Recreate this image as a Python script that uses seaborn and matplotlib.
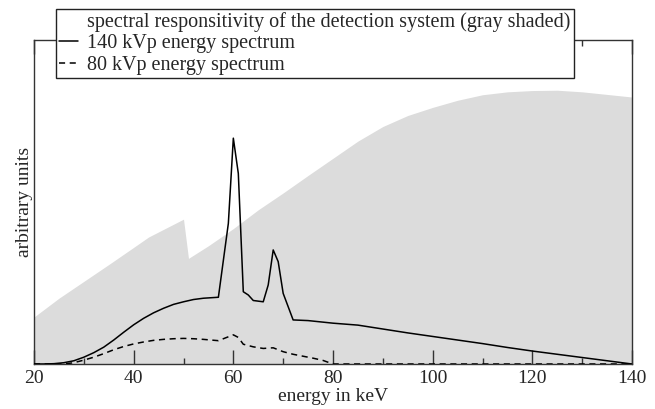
import matplotlib
matplotlib.use("Agg")
import matplotlib.pyplot as plt
from matplotlib.lines import Line2D
from matplotlib.ticker import MultipleLocator
import seaborn as sns
import pandas as pd

# Spectral responsivity of the detection system (gray shaded area)
resp_energy = [20, 25, 30, 35, 40, 43, 50, 51, 55, 60, 65, 70, 75, 80, 85, 90,
               95, 100, 105, 110, 115, 120, 125, 130, 135, 140]
resp_value = [0.145, 0.203, 0.255, 0.307, 0.360, 0.392, 0.447, 0.326, 0.365,
              0.418, 0.476, 0.528, 0.582, 0.635, 0.688, 0.733, 0.767, 0.792,
              0.814, 0.831, 0.840, 0.844, 0.845, 0.840, 0.832, 0.824]

# 140 kVp tube spectrum
kvp140_energy = [20, 22, 24, 26, 28, 30, 32, 34, 36, 38, 40, 42, 44, 46, 48, 50,
                 52, 54, 57, 59, 60, 61, 62, 63, 64, 66, 67, 68, 69, 70, 72, 75,
                 80, 85, 90, 95, 100, 105, 110, 115, 120, 125, 130, 135, 140]
kvp140_value = [0.0, 0.0, 0.001, 0.004, 0.010, 0.021, 0.035, 0.052, 0.074,
                0.098, 0.121, 0.141, 0.158, 0.172, 0.184, 0.192, 0.199, 0.203,
                0.206, 0.434, 0.697, 0.588, 0.223, 0.213, 0.196, 0.192, 0.244,
                0.352, 0.316, 0.218, 0.136, 0.134, 0.126, 0.120, 0.108, 0.096,
                0.085, 0.074, 0.063, 0.051, 0.040, 0.030, 0.020, 0.010, 0.0]

# 80 kVp tube spectrum
kvp80_energy = [20, 26, 28, 30, 32, 34, 36, 38, 40, 42, 44, 46, 48, 50, 52, 54,
                57, 60, 61, 62, 64, 66, 68, 70, 72, 74, 76, 78, 80, 100, 120, 140]
kvp80_value = [0.0, 0.0, 0.004, 0.012, 0.021, 0.032, 0.044, 0.054, 0.062, 0.068,
               0.073, 0.076, 0.078, 0.079, 0.078, 0.076, 0.072, 0.090, 0.082,
               0.061, 0.053, 0.048, 0.050, 0.038, 0.030, 0.024, 0.018, 0.011,
               0.0, 0.0, 0.0, 0.0]

x_ticks = [20, 40, 60, 80, 100, 120, 140]

legend_labels = ["spectral responsitivity of the detection system (gray shaded)",
                 "140 kVp energy spectrum",
                 "80 kVp energy spectrum"]

sns.set_style("ticks")
plt.rcParams["font.family"] = ["Liberation Serif", "DejaVu Serif"]

fig = plt.figure(figsize=(6.55, 4.09), dpi=100)
ax = fig.add_axes([34 / 655, 45 / 409, 598 / 655, 324 / 409])
ax.set_axisbelow(False)

ax.fill_between(resp_energy, 0, resp_value, color="#dcdcdc", linewidth=0, zorder=1)

df140 = pd.DataFrame({"energy": kvp140_energy, "value": kvp140_value})
df80 = pd.DataFrame({"energy": kvp80_energy, "value": kvp80_value})
sns.lineplot(data=df140, x="energy", y="value", color="black", linewidth=1.1,
             ax=ax, zorder=3)
sns.lineplot(data=df80, x="energy", y="value", color="black", linewidth=1.1,
             linestyle=(0, (4, 3)), ax=ax, zorder=3)

ax.set_xlim(20, 140)
ax.set_ylim(0, 1)
ax.set_xticks(x_ticks)
ax.xaxis.set_minor_locator(MultipleLocator(10))
ax.set_yticks([])
ax.tick_params(axis="x", which="major", direction="in", length=10, width=1.0,
               top=True, bottom=True, labelsize=14, pad=4, color="#333333")
ax.tick_params(axis="x", which="minor", direction="in", length=4.5, width=1.0,
               top=True, bottom=True, color="#333333")
for s in ax.spines.values():
    s.set_color("#333333")
    s.set_linewidth(1.0)

ax.set_xlabel("energy in keV", fontsize=14, labelpad=1)
ax.set_ylabel("arbitrary units", fontsize=14, labelpad=1)

handles = [Line2D([], [], color="none"),
           Line2D([], [], color="black", linewidth=1.1),
           Line2D([], [], color="black", linewidth=1.1, linestyle=(0, (4, 3)))]
leg = ax.legend(handles, legend_labels, loc="upper left",
                bbox_to_anchor=(56 / 655, 1 - 9 / 409),
                bbox_transform=fig.transFigure, borderaxespad=0,
                fontsize=14.5, frameon=True, fancybox=False, framealpha=1,
                edgecolor="#222222", handlelength=0.95, handletextpad=0.45,
                labelspacing=0.12, borderpad=0.15)
leg.get_frame().set_linewidth(1.0)
leg.set_zorder(10)

fig.savefig("out.png", dpi=100)
